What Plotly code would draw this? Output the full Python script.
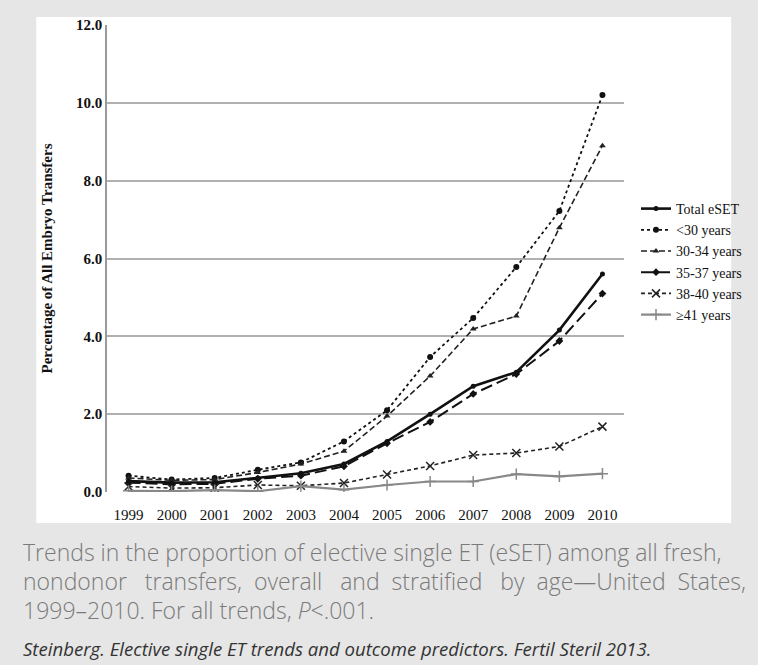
import plotly.graph_objects as go

years = ["1999", "2000", "2001", "2002", "2003", "2004", "2005", "2006", "2007", "2008", "2009", "2010"]
total_eset = [0.28, 0.24, 0.25, 0.36, 0.48, 0.72, 1.30, 2.00, 2.72, 3.08, 4.16, 5.60]
under30 = [0.42, 0.32, 0.36, 0.57, 0.76, 1.30, 2.10, 3.47, 4.47, 5.78, 7.22, 10.20]
age30_34 = [0.36, 0.30, 0.32, 0.50, 0.72, 1.05, 1.95, 2.98, 4.19, 4.52, 6.79, 8.90]
age35_37 = [0.24, 0.20, 0.21, 0.34, 0.42, 0.66, 1.25, 1.80, 2.52, 3.03, 3.88, 5.10]
age38_40 = [0.14, 0.10, 0.11, 0.18, 0.16, 0.23, 0.45, 0.67, 0.95, 1.00, 1.17, 1.68]
age41p = [0.03, 0.02, 0.05, 0.02, 0.15, 0.06, 0.18, 0.27, 0.27, 0.46, 0.40, 0.47]
y_ticks = [0, 2, 4, 6, 8, 10, 12]
y_tick_labels = ["0.0", "2.0", "4.0", "6.0", "8.0", "10.0", "12.0"]

W, H = 758, 665
PL, PR, PT, PB = 107, 633, 25, 492  # plot area in px


def px_x(p):
    return (p - PL) / (PR - PL)


def px_y(p):
    return (PB - p) / (PB - PT)


series = [
    ("Total eSET", total_eset, dict(color="#111111", width=2.6, dash="solid"), dict(symbol="circle", size=5)),
    ("<30 years", under30, dict(color="#111111", width=1.8, dash="dot"), dict(symbol="circle", size=6)),
    ("30-34 years", age30_34, dict(color="#222222", width=1.6, dash="6px,3px"), dict(symbol="triangle-up", size=6)),
    ("35-37 years", age35_37, dict(color="#111111", width=2.0, dash="12px,5px"), dict(symbol="diamond", size=6)),
    ("38-40 years", age38_40, dict(color="#222222", width=1.6, dash="4px,3px"), dict(symbol="x-thin-open", size=8, line=dict(width=1.5, color="#222222"))),
    ("\u226541 years", age41p, dict(color="#888888", width=2.2, dash="solid"), dict(symbol="cross-thin-open", size=8, line=dict(width=1.5, color="#333333"))),
]

fig = go.Figure()
for name, vals, line, marker in series:
    m = dict(marker)
    m.setdefault("color", line["color"])
    fig.add_trace(go.Scatter(x=years, y=vals, name=name, mode="lines+markers",
                             line=line, marker=m))

fig.add_shape(type="rect", xref="paper", yref="paper",
              x0=px_x(35), x1=px_x(742), y0=px_y(523), y1=px_y(17),
              fillcolor="white", line=dict(width=0), layer="below")

s3 = "\u00a0\u00a0\u00a0"
s2 = "\u00a0\u00a0"
line2 = ("nondonor" + s3 + "transfers," + s2 + "overall" + s3 + "and" + s2 + "stratified" + s3
         + "by" + s2 + "age\u2014United" + s2 + "States,")
cap_font = dict(family="Open Sans", size=23, color="#7a7a7a", weight=300)
cap_lines = [
    ("Trends in the proportion of elective single ET (eSET) among all fresh,", 552),
    (line2, 581),
    ("1999\u20132010. For all trends, <i>P</i>&lt;.001.", 610),
]
for txt, yc in cap_lines:
    fig.add_annotation(text=txt, xref="paper", yref="paper", x=px_x(20), y=px_y(yc),
                       xanchor="left", yanchor="middle", showarrow=False, font=cap_font)
fig.add_annotation(text="<i>Steinberg. Elective single ET trends and outcome predictors. Fertil Steril 2013.</i>",
                   xref="paper", yref="paper", x=px_x(20), y=px_y(648),
                   xanchor="left", yanchor="middle", showarrow=False,
                   font=dict(family="Open Sans", size=18.6, color="#333333"))

fig.update_layout(
    width=W, height=H,
    margin=dict(l=PL, r=W - PR, t=PT, b=H - PB, pad=0),
    paper_bgcolor="#e6e6e6", plot_bgcolor="white",
    font=dict(family="Liberation Serif", color="#111111"),
    showlegend=True,
    legend=dict(xref="container", yref="container", x=636 / W, y=1 - 262 / H,
                xanchor="left", yanchor="middle", bgcolor="rgba(0,0,0,0)",
                font=dict(family="Liberation Serif", size=14, color="#111111"),
                itemwidth=30, tracegroupgap=0),
    xaxis=dict(type="category", range=[-0.5, 11.5], showgrid=False, zeroline=False,
               showline=False, ticks="", ticklabelstandoff=12,
               tickfont=dict(family="Liberation Serif", size=15, color="#111111")),
    yaxis=dict(range=[0, 12], tickvals=y_ticks, ticktext=y_tick_labels,
               showgrid=True, gridcolor="#b0b0b0", gridwidth=1.5, zeroline=False,
               showline=True, linecolor="#9a9a9a", linewidth=1.5, ticks="",
               tickfont=dict(family="Liberation Serif", size=15, color="#111111", weight="bold"),
               title=dict(text="Percentage of All Embryo Transfers", standoff=20,
                          font=dict(family="Liberation Serif", size=15, color="#111111", weight="bold"))),
)

fig.write_html("out.html", config={"displayModeBar": False},
               post_script="document.body.style.margin='0';document.body.style.background='#e6e6e6';document.body.style.overflow='hidden';")
